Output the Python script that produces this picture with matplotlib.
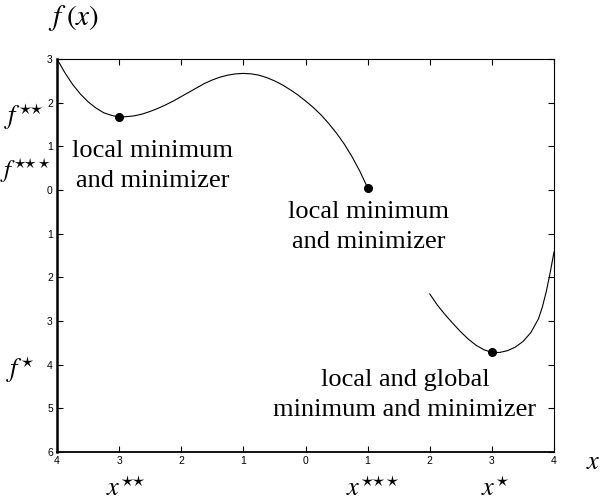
import matplotlib
matplotlib.use("Agg")
import matplotlib.pyplot as plt

plt.rcParams["mathtext.fontset"] = "stix"

# First branch of f(x), defined on [-4, 1]
x_left = [-4.000, -3.875, -3.750, -3.625, -3.500, -3.375, -3.250, -3.125, -3.000,
          -2.875, -2.750, -2.625, -2.500, -2.375, -2.250, -2.125, -2.000,
          -1.875, -1.750, -1.625, -1.500, -1.375, -1.250, -1.125, -1.000,
          -0.875, -0.750, -0.625, -0.500, -0.375, -0.250, -0.125, 0.000,
          0.125, 0.250, 0.375, 0.500, 0.625, 0.750, 0.875, 1.000]
y_left = [3.00, 2.69, 2.42, 2.20, 2.02, 1.88, 1.77, 1.71, 1.67,
          1.68, 1.70, 1.74, 1.80, 1.87, 1.95, 2.04, 2.14,
          2.24, 2.34, 2.44, 2.52, 2.585, 2.63, 2.66, 2.67,
          2.66, 2.63, 2.575, 2.50, 2.41, 2.30, 2.18, 2.04,
          1.89, 1.72, 1.52, 1.30, 1.05, 0.76, 0.43, 0.05]

# Second branch of f(x), defined on [2, 4]
x_right = [2.000, 2.125, 2.250, 2.375, 2.500, 2.625, 2.750, 2.875, 3.000,
           3.125, 3.250, 3.375, 3.500, 3.625, 3.750, 3.8125, 3.875, 3.9375, 4.000]
y_right = [-2.38, -2.64, -2.86, -3.06, -3.25, -3.42, -3.56, -3.66, -3.72,
           -3.72, -3.68, -3.60, -3.47, -3.27, -2.95, -2.68, -2.33, -1.90, -1.42]

# Minimizers (x, f(x))
min_x = [-3.0, 1.0, 3.0]
min_y = [1.67, 0.05, -3.72]

x_ticks = [-4, -3, -2, -1, 0, 1, 2, 3, 4]
y_ticks = [3, 2, 1, 0, -1, -2, -3, -4, -5, -6]
x_tick_labels = ["4", "3", "2", "1", "0", "1", "2", "3", "4"]
y_tick_labels = ["3", "2", "1", "0", "1", "2", "3", "4", "5", "6"]

W, H = 600, 504
fig = plt.figure(figsize=(W / 100, H / 100), dpi=100)
ax = fig.add_axes([57 / W, 1 - 452 / H, (554 - 57) / W, (452 - 59) / H])

ax.plot(x_left, y_left, color="black", lw=0.8)
ax.plot(x_right, y_right, color="black", lw=0.8)
ax.plot(min_x, min_y, "o", color="black", ms=5.5, clip_on=False)

ax.set_xlim(-4, 4)
ax.set_ylim(-6, 3)
ax.set_xticks(x_ticks)
ax.set_xticklabels(x_tick_labels)
ax.set_yticks(y_ticks)
ax.set_yticklabels(y_tick_labels)
ax.tick_params(direction="in", length=4, width=0.8, top=True, right=True,
               labelsize=7.5, pad=3, colors="black")
for lbl in ax.get_xticklabels() + ax.get_yticklabels():
    lbl.set_fontfamily("Liberation Sans")

ax.spines["left"].set_linewidth(1.8)
ax.spines["bottom"].set_linewidth(1.3)
ax.spines["top"].set_linewidth(0.8)
ax.spines["right"].set_linewidth(0.8)


def ftext(px, py, s, size, **kw):
    fig.text(px / W, 1 - py / H, s, fontsize=size, ha="center", va="center", **kw)


# Axis names
ftext(74, 18, r"$f\;(x)$", 21)
ftext(593, 462, r"$x$", 19)

# Values of the minima on the vertical axis
ftext(24, 117, r"$f^{\star\!\!\star}$", 19)
ftext(25, 171, r"$f^{\star\!\!\star\!\!\star}$", 18)
ftext(20, 370, r"$f^{\star}$", 19)

# Minimizers on the horizontal axis
ftext(126, 489, r"$x^{\star\!\!\star}$", 19)
ftext(373, 489, r"$x^{\star\!\!\star\!\!\star}$", 19)
ftext(495, 489, r"$x^{\star}$", 19)

serif = dict(family="Liberation Serif", linespacing=1.45)
ftext(153, 166, "local minimum\nand minimizer", 19, **serif)
ftext(369, 227, "local minimum\nand minimizer", 19, **serif)
ftext(405, 395, "local and global\nminimum and minimizer", 19, **serif)

fig.savefig("out.png", dpi=100)
